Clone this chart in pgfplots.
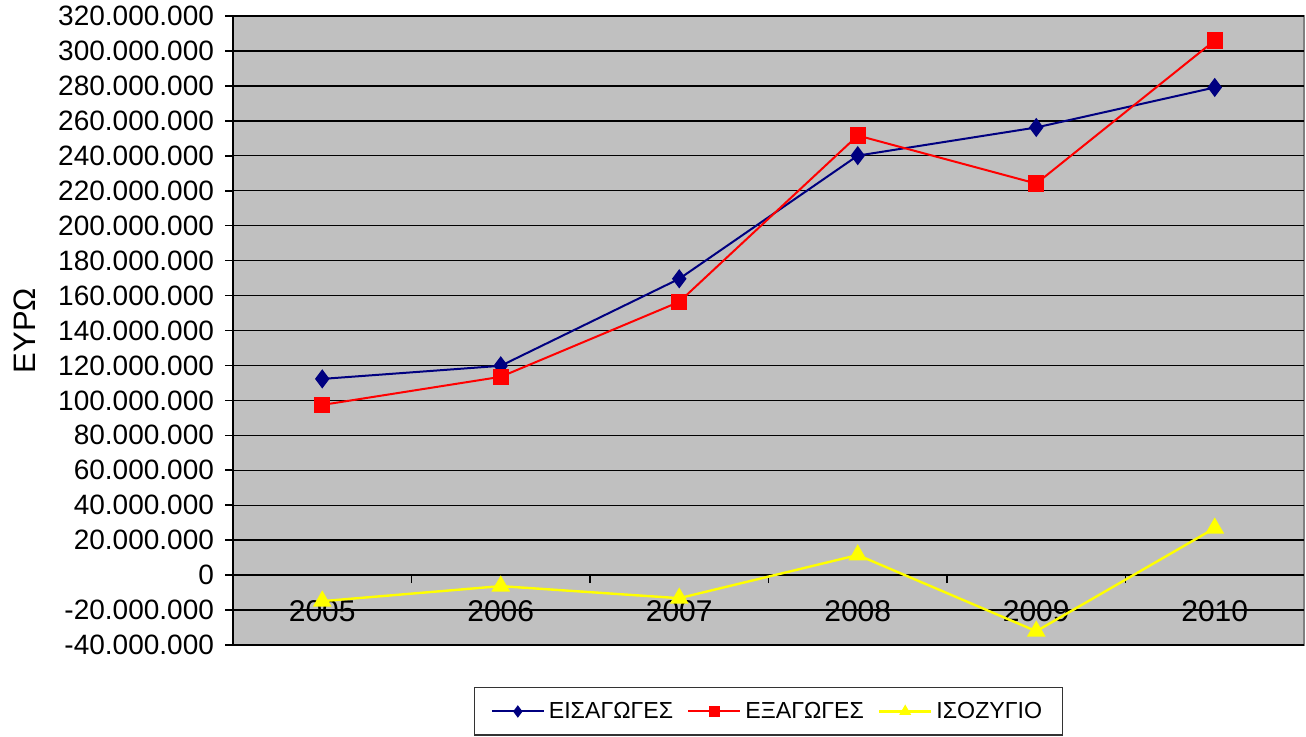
\documentclass[border=0pt]{standalone}
\usepackage{fontspec}
\setmainfont{Liberation Sans}
\usepackage{pgfplots}
\pgfplotsset{compat=1.18}
\definecolor{bgray}{RGB}{192,192,192}
\definecolor{navyb}{RGB}{0,0,128}
\definecolor{yel}{RGB}{255,255,0}
\definecolor{redm}{RGB}{255,0,0}
\begin{document}
\begin{tikzpicture}
\useasboundingbox (0,0) rectangle (653pt,368pt);
\begin{axis}[
  at={(116.5pt,45.5pt)}, anchor=south west,
  scale only axis, width=535.5pt, height=314.5pt,
  xmin=-0.5, xmax=5.5, ymin=-40000000, ymax=320000000,
  axis x line=middle, axis y line=left,
  axis line style={-, black, line width=0.8pt},
  axis background/.style={fill=bgray, draw=gray, line width=1pt},
  hide obscured y ticks=false,
  ytick={-40000000,-20000000,0,20000000,40000000,60000000,80000000,100000000,120000000,140000000,160000000,180000000,200000000,220000000,240000000,260000000,280000000,300000000,320000000},
  scaled y ticks=false,
  yticklabel style={/pgf/number format/fixed, /pgf/number format/1000 sep={.}, /pgf/number format/assume math mode=true, font=\fontsize{14}{16}\selectfont, xshift=-2pt},
  ymajorgrids, grid style={black, line width=0.7pt},
  tick align=outside, major tick length=4pt,
  ytick style={black, line width=0.8pt},
  xtick={0,1,2,3,4,5},
  xticklabels={2005,2006,2007,2008,2009,2010},
  xtick style={draw=none},
  xticklabel style={font=\fontsize{15}{17}\selectfont, yshift=-5pt},
  extra x ticks={0.5,1.5,2.5,3.5,4.5},
  extra x tick labels={},
  extra x tick style={xtick style={draw=black, line width=0.8pt}},
  ylabel={ΕΥΡΩ},
  every axis y label/.style={at={(axis description cs:0,0.5)}, xshift=-104pt, rotate=90, anchor=center, font=\fontsize{15.5}{18}\selectfont},
  legend style={at={(axis description cs:0.5,-0.1057)}, anchor=center, legend columns=3, draw=black!80, line width=0.6pt, font=\fontsize{11.6}{14}\selectfont, /tikz/every even column/.append style={column sep=5pt}, inner xsep=8pt, inner ysep=5pt},
  legend image code/.code={\draw[#1, mark size=2.3pt, mark repeat=2, mark phase=2] plot coordinates {(0pt,0pt) (13pt,0pt) (26pt,0pt)};},
]
\addplot[navyb, line width=1pt, mark=diamond*, mark size=4pt, mark options={solid, fill=navyb}]
  coordinates {(0,112300000) (1,119800000) (2,169600000) (3,240100000) (4,256200000) (5,279100000)};
\addlegendentry{ΕΙΣΑΓΩΓΕΣ}
\addplot[redm, line width=1pt, mark=square*, mark size=3.6pt, mark options={solid, fill=redm}]
  coordinates {(0,97400000) (1,113500000) (2,156400000) (3,251600000) (4,224100000) (5,306000000)};
\addlegendentry{ΕΞΑΓΩΓΕΣ}
\addplot[yel, line width=1.2pt, mark=triangle*, mark size=4.2pt, mark options={solid, fill=yel}]
  coordinates {(0,-14900000) (1,-6300000) (2,-13200000) (3,11500000) (4,-32100000) (5,26900000)};
\addlegendentry{ΙΣΟΖΥΓΙΟ}
\end{axis}
\end{tikzpicture}
\end{document}
